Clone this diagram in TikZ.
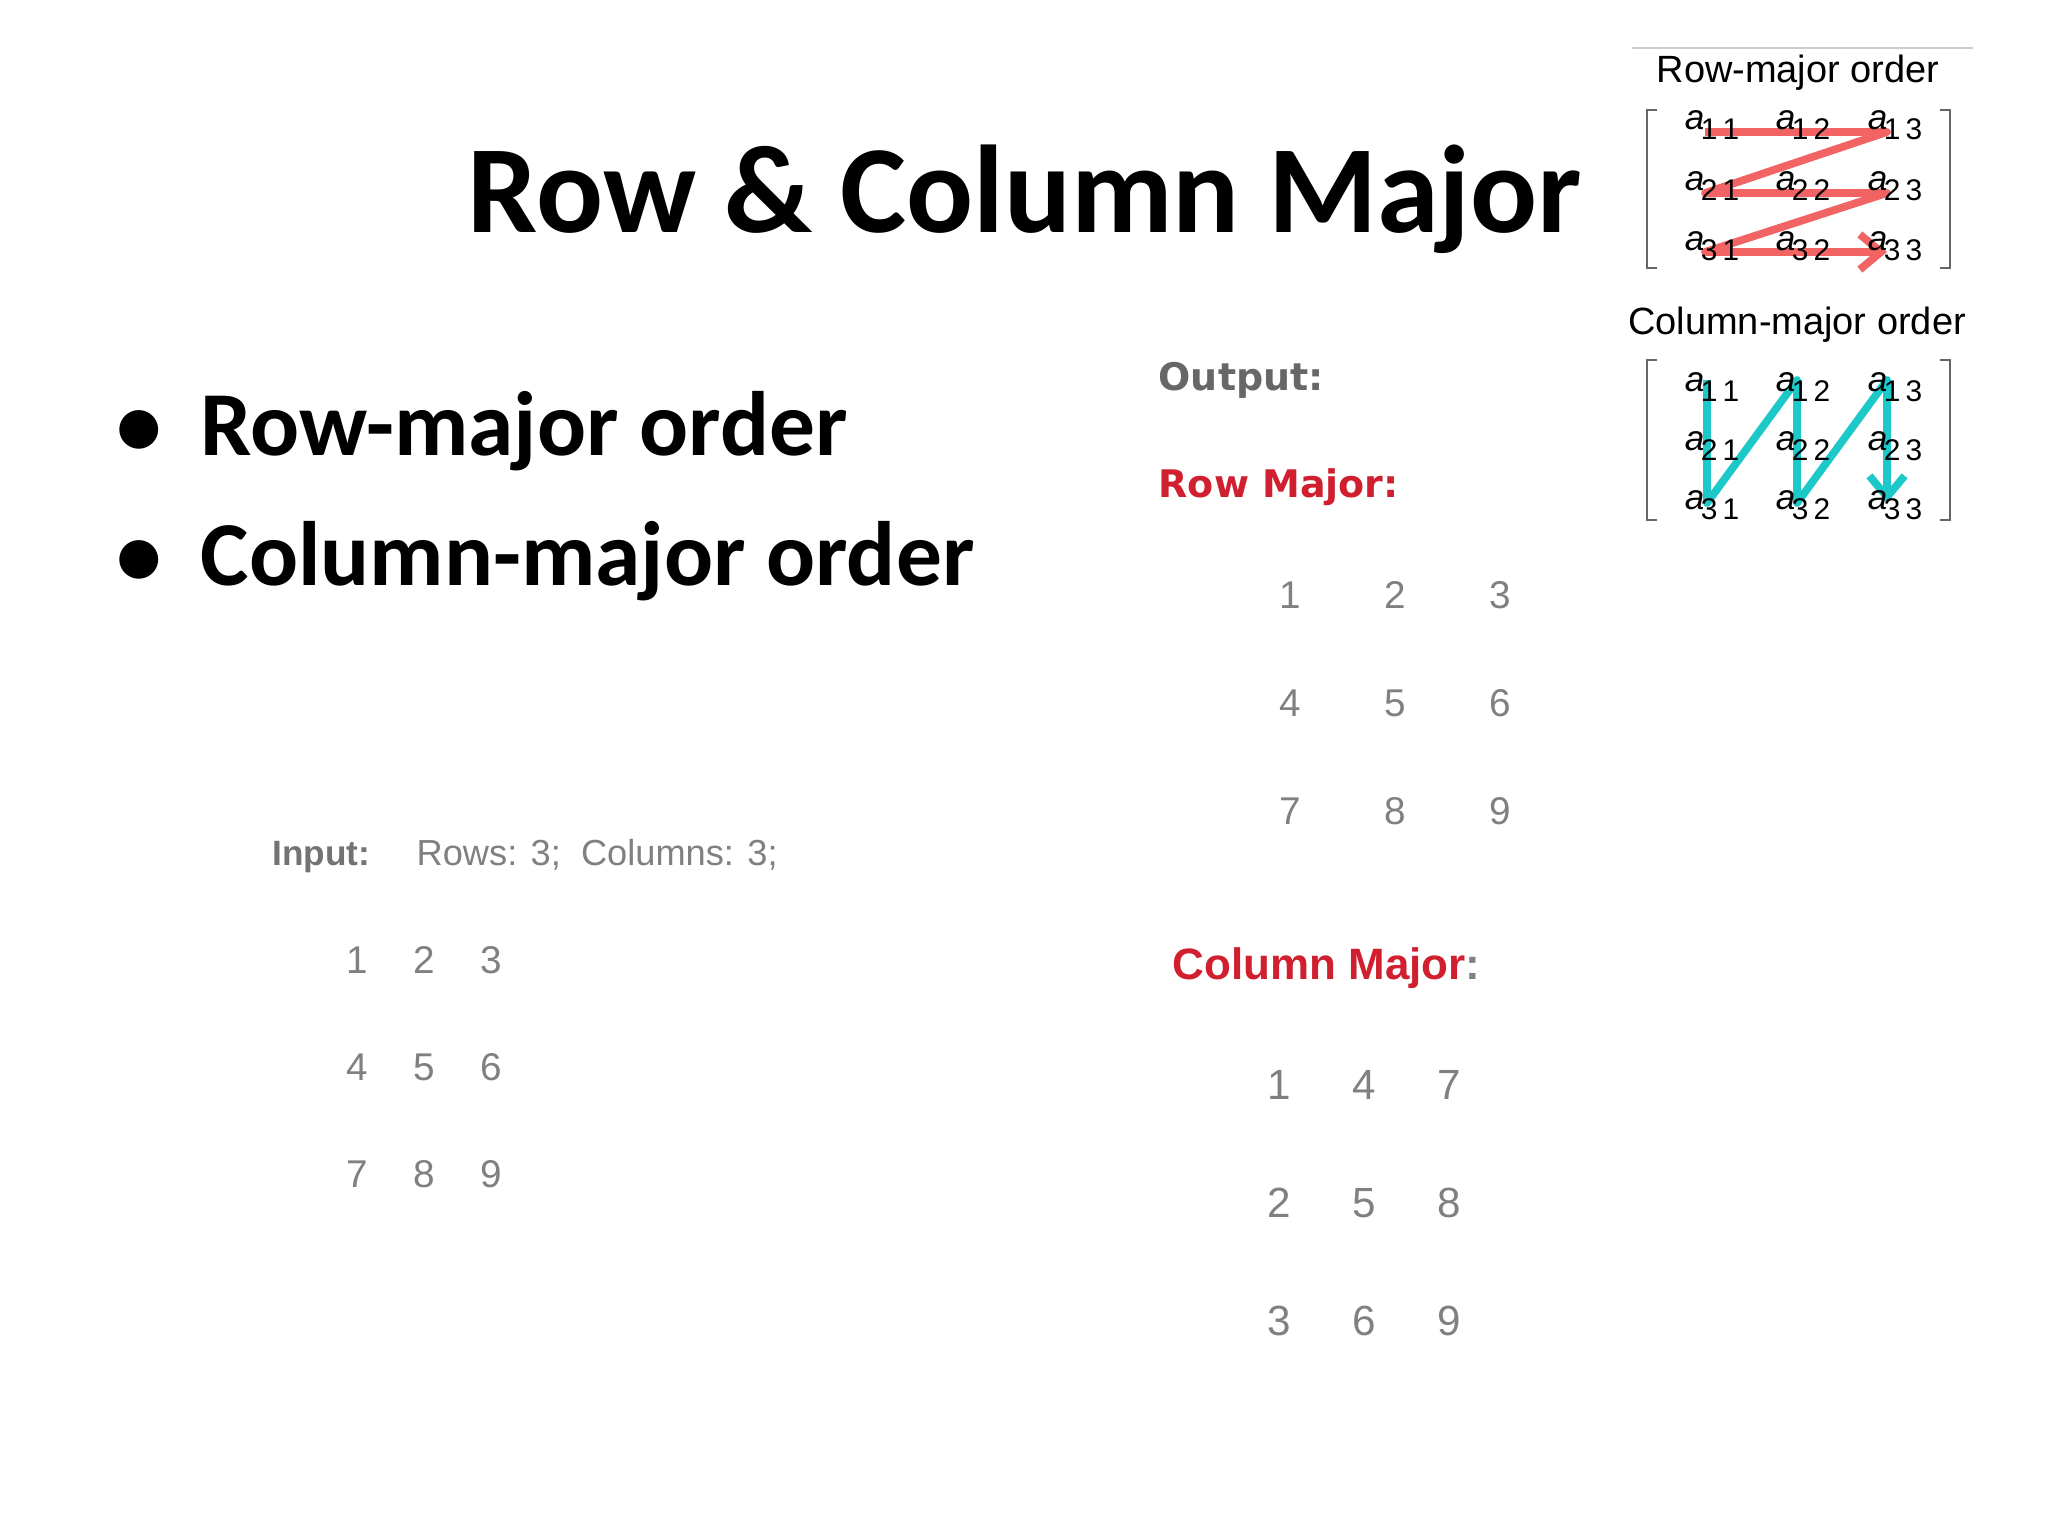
\documentclass[tikz,border=0pt]{standalone}
\usepackage{fontspec}
\setmainfont{Carlito}
\newfontfamily\lib{Liberation Sans}
\newfontfamily\wide{DejaVu Sans}
\usetikzlibrary{arrows.meta}
\definecolor{rowred}{HTML}{F26464}
\definecolor{colcyan}{HTML}{1CC8C8}
\definecolor{numgray}{HTML}{808080}
\definecolor{hdred}{HTML}{D02030}
\tikzset{
 px/.style={x=0.01cm,y=-0.01cm},
 title/.style={font=\fontsize{35.5}{42}\selectfont\bfseries},
 bullet/.style={anchor=base west,inner sep=0pt,font=\fontsize{26}{32}\selectfont\bfseries},
 num/.style={font=\lib\fontsize{10.5}{12}\selectfont,text=numgray},
 innum/.style={font=\lib\fontsize{11}{13}\selectfont,text=numgray},
 hd/.style={anchor=base west,inner sep=0pt,font=\wide\fontsize{10.8}{12}\selectfont\bfseries},
 ent/.style={font=\lib\fontsize{10}{12}\selectfont,inner sep=0pt},
 mtitle/.style={font=\lib\fontsize{10.8}{12}\selectfont},
 rowline/.style={rowred,line width=2.2pt},
 colline/.style={colcyan,line width=2.2pt},
 brk/.style={gray!80!black,line width=0.6pt},
}
\newcommand{\ent}[2]{\textit{a}\kern-0.1em\raisebox{-0.55ex}{\fontsize{8.5}{9}\selectfont #1\,#2}}
\begin{document}
\begin{tikzpicture}[px]
\useasboundingbox[fill=white] (0,0) rectangle (2048,1536);
% title
\node[title,anchor=base] (ttl) at (1025,232) {Row \& Column Major};
\node[bullet] (b1) at (200,455) {Row-major order};
\node[bullet] (b2) at (200,585) {Column-major order};
\node[anchor=base,inner sep=0pt,font=\fontsize{26}{32}\selectfont\bfseries] (d1) at (139,455) {\textbullet};
\node[anchor=base,inner sep=0pt,font=\fontsize{26}{32}\selectfont\bfseries] (d2) at (139,585) {\textbullet};
% input
\node[anchor=base west,inner sep=0pt,text=numgray!90!black,font=\lib\fontsize{10}{12}\selectfont\bfseries] (inp) at (272,865) {Input:};
\node[anchor=base west,inner sep=0pt,font=\lib\fontsize{10.3}{13}\selectfont,text=numgray] (rc) at (416,865) {Rows: 3;\ \ Columns: 3;};
\foreach \v [count=\i from 0] in {1,2,3,4,5,6,7,8,9}{
 \pgfmathtruncatemacro\r{int(\i/3)}\pgfmathtruncatemacro\c{mod(\i,3)}
 \node[innum] (in\v) at (357+67*\c,960+107*\r) {\v};
}
% output
\node[hd,text=numgray!80!black] (out) at (1158,390) {Output:};
\node[hd,text=hdred] (rmj) at (1158,497) {Row Major:};
\foreach \v [count=\i from 0] in {1,2,3,4,5,6,7,8,9}{
 \pgfmathtruncatemacro\r{int(\i/3)}\pgfmathtruncatemacro\c{mod(\i,3)}
 \node[num,font=\lib\fontsize{11}{12}\selectfont] (ro\v) at (1290+105*\c,595+108*\r) {\v};
}
\node[anchor=west,inner sep=0pt,font=\lib\fontsize{12.5}{14}\selectfont\bfseries,text=hdred] (cmj) at (1172,968) {Column Major\textcolor{numgray}{:}};
\foreach \v [count=\i from 0] in {1,4,7,2,5,8,3,6,9}{
 \pgfmathtruncatemacro\r{int(\i/3)}\pgfmathtruncatemacro\c{mod(\i,3)}
 \node[num,font=\lib\fontsize{12}{14}\selectfont] (co\v) at (1279+85*\c,1085+118*\r) {\v};
}
% top right
\draw[gray!40,line width=0.8pt] (1632,48) -- (1973,48);
\node[mtitle] (rt) at (1798,73) {Row-major order};
\node[mtitle] (ct) at (1797,325) {Column-major order};
% brackets
\draw[brk] (1657,110) -- (1647,110) -- (1647,268) -- (1657,268);
\draw[brk] (1940,110) -- (1950,110) -- (1950,268) -- (1940,268);
\draw[brk] (1657,360) -- (1647,360) -- (1647,520) -- (1657,520);
\draw[brk] (1940,360) -- (1950,360) -- (1950,520) -- (1940,520);
\foreach \r/\y in {1/132,2/193,3/252}{
 \foreach \c/\x in {1/1705,2/1796,3/1887}{
  \coordinate (R\r\c) at (\x,\y);
 }}
\foreach \c/\x in {1/1707,2/1797,3/1887}{
  \coordinate (Ct\c) at (\x,380);
  \coordinate (Cb\c) at (\x,503);
 }
\draw[rowline,line join=round,-{Straight Barb[length=6pt,width=10pt]}]
 (R11) -- (R13) -- (R21) -- (R23) -- (R31) -- (R33);
\draw[colline,line join=round,-{Straight Barb[length=6pt,width=10pt]}]
 (Ct1) -- (Cb1) -- (Ct2) -- (Cb2) -- (Ct3) -- (Cb3);
\foreach \r/\y in {1/125,2/186,3/246}{
 \foreach \c/\x in {1/1712,2/1803,3/1895}{
  \node[ent] (rm\r\c) at (\x,\y) {\ent{\r}{\c}};
 }}
\foreach \r/\y in {1/387,2/446,3/505}{
 \foreach \c/\x in {1/1712,2/1803,3/1895}{
  \node[ent] (cm\r\c) at (\x,\y) {\ent{\r}{\c}};
 }}
\end{tikzpicture}
\end{document}
